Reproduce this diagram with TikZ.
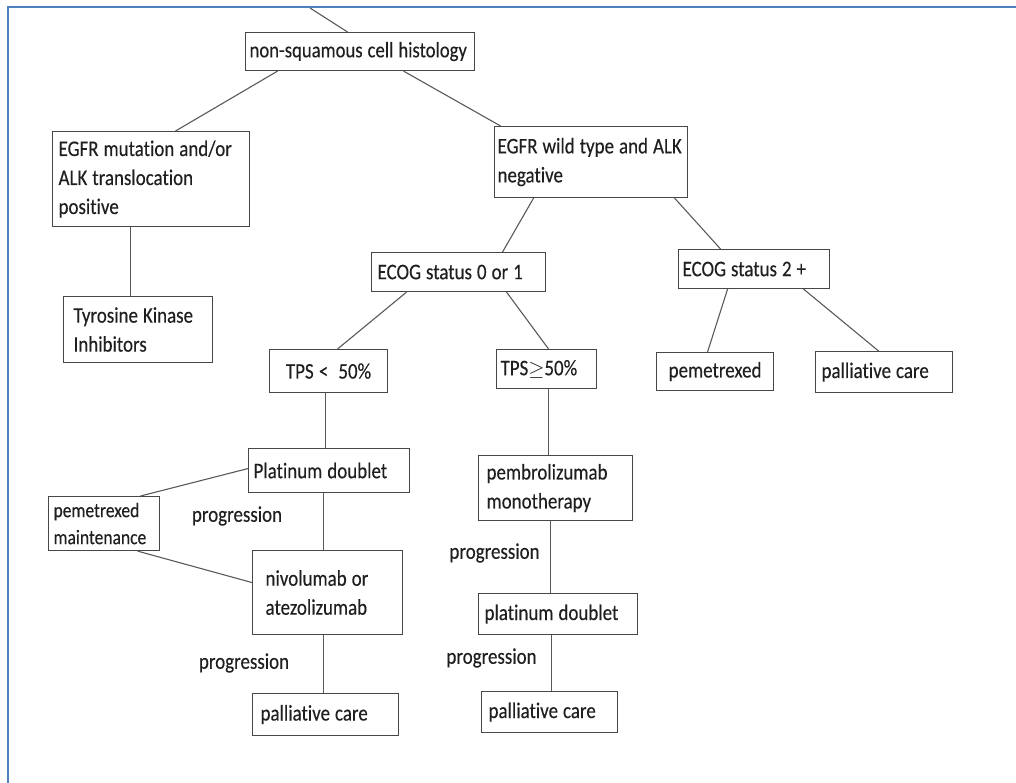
\documentclass[tikz,border=0pt]{standalone}
\usepackage{fontspec}
\setmainfont{Carlito}[Ligatures=NoCommon, FakeStretch=0.85, FakeBold=0.25]
\definecolor{framecol}{RGB}{79,129,189}
\begin{document}
\begin{tikzpicture}[x=1pt,y=-1pt,
  box/.style={draw=black!72, line width=1.1pt, text=black!88, anchor=north west,
    font=\fontsize{22.3}{29}\selectfont, inner ysep=0pt, align=left,
    execute at begin node={\hyphenpenalty=10000\exhyphenpenalty=10000\spaceskip=5pt plus 1pt minus 1pt\relax}},
  link/.style={draw=black!65, line width=1.1pt},
  lbl/.style={text=black!88, font=\fontsize{22.3}{29}\selectfont, inner sep=0pt},
  frame/.style={draw=framecol, line width=2pt}]
\useasboundingbox (0,0) rectangle (1016,783);
\draw[frame] (8,783) -- (8,7) -- (1016,7);
% boxes: name, left x, top y, width, height, left padding, text
\newcommand{\bx}[7]{\node[box, inner xsep=#6, text width=#4-2*#6, minimum height=#5] (#1) at (#2,#3) {#7};}
\node[box, inner xsep=4pt, text width=221, minimum height=38, font=\fontsize{22}{29}\selectfont] (ns) at (245,32) {\mbox{non-squamous cell histology}};
\bx{mut}{52}{131}{197}{95}{6pt}{EGFR mutation and/or\\ALK translocation\\positive}
\bx{tki}{63}{296}{149}{66}{10pt}{Tyrosine Kinase\\Inhibitors}
\bx{wild}{494}{126}{193}{71}{3pt}{\mbox{EGFR wild type and ALK}\\negative}
\bx{ecoga}{371}{252}{174}{39}{6pt}{\mbox{ECOG status 0 or 1}}
\bx{ecogb}{678}{249}{151}{39}{4pt}{ECOG status 2 +}
\node[box, align=center, minimum width=117, minimum height=38, text width=109] (pem) at (656,352) {pemetrexed};
\bx{palr}{815}{351}{137}{41}{6pt}{palliative care}
\node[box, align=center, minimum width=118, minimum height=43, text width=110] (tpsl) at (269,349) {TPS <\hspace{10pt}50\%};
\bx{tpsg}{496}{349}{100}{39}{4pt}{TPS$\geq$50\%}
\bx{plat}{248}{448}{161}{44}{5pt}{Platinum doublet}
\node[box, inner xsep=5pt, text width=101, minimum height=54, font=\fontsize{20.6}{27}\selectfont] (pmaint) at (48,496) {pemetrexed\\maintenance};
\bx{nivo}{252}{550}{150}{84}{13pt}{nivolumab or\\atezolizumab}
\bx{pall}{252}{693}{146}{42}{8pt}{palliative care}
\bx{pembro}{478}{455}{154}{65}{8pt}{pembrolizumab\\monotherapy}
\bx{platb}{478}{593}{159}{41}{6pt}{platinum doublet}
\bx{palm}{481}{691}{136}{41}{7pt}{palliative care}
% labels
\node[lbl] (pr1) at (237,516) {progression};
\node[lbl] (pr2) at (244,663) {progression};
\node[lbl] (pr3) at (494.5,553) {progression};
\node[lbl] (pr4) at (491.5,658) {progression};
% connectors
\coordinate (topend) at (310,8);
\draw[link] (topend) -- ([xshift=-12.5pt]ns.north);
\draw[link] ([xshift=-82.5pt]ns.south) -- ([xshift=24.5pt]mut.north);
\draw[link] ([xshift=43.5pt]ns.south) -- ([xshift=-90.5pt]wild.north);
\draw[link] ([xshift=-20.5pt]mut.south) -- ([xshift=-7.5pt]tki.north);
\draw[link] ([xshift=-57.5pt]wild.south) -- ([xshift=44pt]ecoga.north);
\draw[link] ([xshift=83.5pt]wild.south) -- ([xshift=-33.5pt]ecogb.north);
\draw[link] ([xshift=-52pt]ecoga.south) -- ([xshift=9pt]tpsl.north);
\draw[link] ([xshift=48pt]ecoga.south) -- ([xshift=2pt]tpsg.north);
\draw[link] ([xshift=-26.5pt]ecogb.south) -- ([xshift=-7.5pt]pem.north);
\draw[link] ([xshift=49.5pt]ecogb.south) -- ([xshift=-5.5pt]palr.north);
\draw[link] ([xshift=-3pt]tpsl.south) -- ([xshift=-3.5pt]plat.north);
\draw[link] ([xshift=-5.5pt]plat.south) -- ([xshift=-4pt]nivo.north);
\draw[link] ([xshift=-4pt]nivo.south) -- ([xshift=-2pt]pall.north);
\draw[link] ([xshift=36.5pt]pmaint.north) -- ([yshift=2pt]plat.west);
\draw[link] ([xshift=33.5pt]pmaint.south) -- ([yshift=10pt]nivo.west);
\draw[link] ([xshift=2pt]tpsg.south) -- ([xshift=-7pt]pembro.north);
\draw[link] ([xshift=-5pt]pembro.south) -- ([xshift=-7.5pt]platb.north);
\draw[link] ([xshift=-6.5pt]platb.south) -- ([xshift=2pt]palm.north);
\end{tikzpicture}
\end{document}
